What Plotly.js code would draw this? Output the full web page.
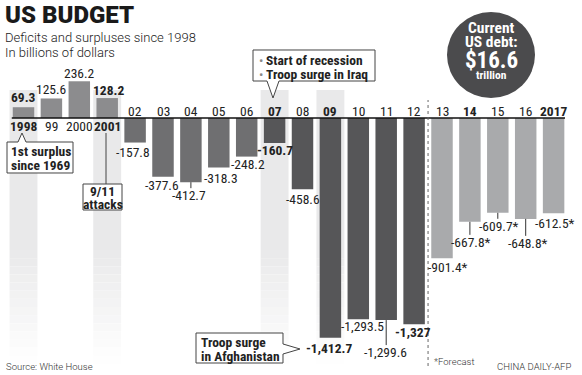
<!DOCTYPE html>
<html>
<head>
<meta charset="utf-8">
<script src="https://cdn.plot.ly/plotly-3.0.1.min.js"></script>
<style>html,body{margin:0;padding:0;background:#fff;}#chart{width:582px;height:375px;}</style>
</head>
<body>
<div id="chart"></div>
<script>
// ---- DATA ----
const years = ['1998','99','2000','2001','02','03','04','05','06','07','08','09','10','11','12','13','14','15','16','2017'];
const values = [69.3,125.6,236.2,128.2,-157.8,-377.6,-412.7,-318.3,-248.2,-160.7,-458.6,-1412.7,-1293.5,-1299.6,-1327,-901.4,-667.8,-609.7,-648.8,-612.5];
const valueLabels = ['69.3','125.6','236.2','128.2','-157.8','-377.6','-412.7','-318.3','-248.2','-160.7','-458.6','-1,412.7','-1,293.5','-1,299.6','-1,327','-901.4*','-667.8*','-609.7*','-648.8*','-612.5*'];
const periods = ['surplus','surplus','surplus','surplus','deficit','deficit','deficit','deficit','deficit','recession','recession','recession','recession','recession','recession','forecast','forecast','forecast','forecast','forecast'];
const highlightedYears = ['1998','2001','07','09'];
const boldYears = ['1998','2001','07','09','14','2017'];
const boldValueYears = ['1998','2001','07','09','12'];
const debtTrillions = '16.6';

// ---- STYLE ----
const W = 582, H = 375;
const NARROW = '"Roboto Condensed", "DejaVu Sans Condensed", sans-serif';
const periodColors = {surplus:'#8c8c8e', deficit:'#6f6f71', recession:'#565658', forecast:'#a9aaac'};
// label placement: distance (px) of label centre from bar end, and horizontal nudge
const labelGap = [10,9,8,8, 9,8,13,10.5,7,7,10,10,7,32,8,9,20,13,24,10];
const labelDx = [0,0,0,1, -2.5,-1.5,-1.5,2,1,0,0,-1.5,4,-1,-1,6,1.5,1.5,2.5,1.5];

const X = px => px / W;
const Y = py => 1 - py / H;
function path(pts){ return 'M ' + pts.map(p => X(p[0]).toFixed(5) + ',' + Y(p[1]).toFixed(5)).join(' L ') + ' Z'; }

const idx = years.map((_, i) => i);
const barTrace = {
  type:'bar', x: idx, y: values,
  marker:{color: periods.map(p => periodColors[p]), line:{width:0}},
  width: 0.77, hoverinfo:'skip'
};

const shapes = [];
const annotations = [];

// highlight bands behind selected years (solid then fading to white)
highlightedYears.forEach(yr => {
  const c = years.indexOf(yr);
  shapes.push({type:'rect', layer:'below', xref:'x', yref:'paper', x0:c-0.5, x1:c+0.5, y0:Y(250), y1:Y(90), fillcolor:'#e9e9ea', line:{width:0}});
  const N = 14, top = 250, bottom = 364, step = (bottom-top)/N;
  for (let k = 0; k < N; k++) {
    const t = (k+0.5)/N;
    const g = Math.round(233 + (255-233)*t), b = Math.round(234 + (255-234)*t);
    shapes.push({type:'rect', layer:'below', xref:'x', yref:'paper', x0:c-0.5, x1:c+0.5, y0:Y(top+step*(k+1)), y1:Y(top+step*k), fillcolor:`rgb(${g},${g},${b})`, line:{width:0}});
  }
});

// zero line
shapes.push({type:'line', layer:'above', xref:'x', yref:'y', x0:-0.42, x1:years.length-1+0.41, y0:0, y1:0, line:{color:'#111', width:1.6}});

// forecast separator
const fStart = periods.indexOf('forecast');
shapes.push({type:'line', layer:'above', xref:'x', yref:'paper', x0:fStart-0.5, x1:fStart-0.5, y0:Y(366), y1:Y(100), line:{color:'#666', width:1, dash:'dot'}});

// value labels + leader lines
values.forEach((v, i) => {
  const gap = labelGap[i];
  annotations.push({
    xref:'x', yref:'y', x:i, y:v, xshift:labelDx[i], yshift: v > 0 ? gap : -gap,
    xanchor:'center', yanchor:'middle', showarrow:false,
    text: valueLabels[i],
    font:{family:NARROW, size:13.5, color:'#222', weight: boldValueYears.includes(years[i]) ? 700 : 400}
  });
  if (gap > 12) {
    shapes.push({type:'line', layer:'above', xref:'x', yref:'y', ysizemode:'pixel', yanchor:v,
      x0:i, x1:i, y0:0, y1:-(gap-7), line:{color:'#333', width:1}});
  }
});

// category labels (above the zero line for deficits, below for surpluses)
years.forEach((yr, i) => {
  annotations.push({
    xref:'x', yref:'y', x:i, y:0, yshift: values[i] < 0 ? 7.5 : -7.5,
    xanchor:'center', yanchor:'middle', showarrow:false, text: yr,
    font:{family:NARROW, size:13.5, color:'#222', weight: boldYears.includes(yr) ? 700 : 400}
  });
});

// titles
function txt(text, px, py, opts){
  annotations.push(Object.assign({xref:'paper', yref:'paper', x:X(px), y:Y(py), xanchor:'left', yanchor:'middle', showarrow:false, text:text,
    font:{family:NARROW, size:13, color:'#222'}}, opts || {}));
}
txt('US BUDGET', 3, 15, {font:{family:'Roboto, "DejaVu Sans", sans-serif', size:24, color:'#1a1a1a', weight:900}});
txt('Deficits and surpluses since 1998', 3, 37, {font:{family:'Roboto, "Open Sans", sans-serif', size:13, color:'#222', weight:300}});
txt('In billions of dollars', 3, 52.5, {font:{family:'Roboto, "Open Sans", sans-serif', size:13, color:'#222', weight:300}});

// debt circle
shapes.push({type:'circle', layer:'above', xref:'paper', yref:'paper', x0:X(447), x1:X(535), y0:Y(98), y1:Y(12), fillcolor:'#4b4b4d', line:{width:0}});
const cw = {family:NARROW, color:'#fff', weight:700};
txt('Current', 491, 27.5, {xanchor:'center', borderpad:0, font:Object.assign({size:15.5}, cw)});
txt('US debt:', 491, 42, {xanchor:'center', borderpad:0, font:Object.assign({size:15.5}, cw)});
txt('$' + debtTrillions, 491, 60.5, {xanchor:'center', borderpad:0, font:Object.assign({size:23}, cw)});
txt('trillion', 491, 75, {xanchor:'center', borderpad:0, font:Object.assign({size:11.5}, cw)});

// callouts
const boxLine = {color:'#444', width:1};
const bold = {family:NARROW, size:13.5, color:'#222', weight:700};
shapes.push({type:'path', layer:'above', xref:'paper', yref:'paper', fillcolor:'#fff', line:boxLine,
  path: path([[7,142],[18,142],[22,133],[26,142],[73,142],[73,173],[7,173]])});
txt('1st surplus', 9, 151, {font:bold});
txt('since 1969', 9, 164.5, {font:bold});

shapes.push({type:'line', layer:'above', xref:'paper', yref:'paper', x0:X(106), x1:X(106), y0:Y(133), y1:Y(184), line:boxLine});
shapes.push({type:'rect', layer:'above', xref:'paper', yref:'paper', x0:X(83), x1:X(122), y0:Y(210), y1:Y(184), fillcolor:'#fff', line:boxLine});
txt('9/11', 102.5, 191, {xanchor:'center', font:bold});
txt('attacks', 102.5, 204, {xanchor:'center', font:bold});

shapes.push({type:'path', layer:'above', xref:'paper', yref:'paper', fillcolor:'#fff', line:boxLine,
  path: path([[253,50],[375,50],[375,81],[279,81],[273,98],[267,81],[253,81]])});
txt('•', 257, 60, {font:{family:NARROW, size:13, color:'#8a8a8a'}});
txt('•', 257, 74, {font:{family:NARROW, size:13, color:'#8a8a8a'}});
txt('Start of recession', 264, 60, {font:bold});
txt('Troop surge in Iraq', 264, 74, {font:bold});

shapes.push({type:'path', layer:'above', xref:'paper', yref:'paper', fillcolor:'#fff', line:boxLine,
  path: path([[196,333],[283,333],[283,344],[300,349],[283,354],[283,363],[196,363]])});
txt('Troop surge', 199, 342, {font:bold});
txt('in Afghanistan', 199, 355.5, {font:bold});

// footer
const foot = {family:'Roboto, "DejaVu Sans", sans-serif', size:9.5, color:'#333', weight:300};
txt('Source: White House', 4, 366, {font:foot});
txt('*Forecast', 432, 361, {font:foot});
txt('CHINA DAILY-AFP', 573, 366, {xanchor:'right', font:foot});

const layout = {
  width:W, height:H, margin:{l:0,r:0,t:0,b:0},
  paper_bgcolor:'#fff', plot_bgcolor:'rgba(0,0,0,0)',
  showlegend:false, bargap:0.23,
  xaxis:{range:[-23.5/27.9, (W-23.5)/27.9], visible:false, fixedrange:true},
  yaxis:{range:[-(H-118)/0.1555, 118/0.1555], visible:false, fixedrange:true},
  shapes:shapes, annotations:annotations
};
Plotly.newPlot('chart', [barTrace], layout, {staticPlot:true, displayModeBar:false});
</script>
</body>
</html>
